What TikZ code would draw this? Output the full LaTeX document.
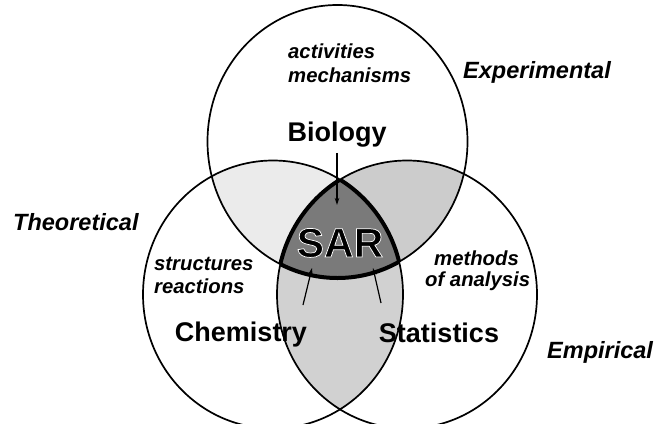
\documentclass[tikz,border=0pt]{standalone}
\usepackage{fontspec}
\setmainfont{Liberation Sans}
\newfontfamily\sarfont{Liberation Sans Bold}[FakeBold=1.8]
\usetikzlibrary{arrows.meta}
\begin{document}
\begin{tikzpicture}[x=1pt,y=-1pt,
  circ/.style={line width=1.7pt},
  big/.style={font=\bfseries\fontsize{27}{30}\selectfont, inner sep=0pt, anchor=base},
  cat/.style={font=\bfseries\itshape\fontsize{23.5}{26}\selectfont, inner sep=0pt, anchor=base west},
  sub/.style={font=\bfseries\itshape\fontsize{20.3}{23}\selectfont, inner sep=0pt, anchor=base west},
  arr/.style={line width=1.2pt, -{Stealth[length=7pt,width=4.5pt]}}
]
\useasboundingbox (0,0) rectangle (658,423);
\fill[white] (0,0) rectangle (658,423);
\def\topC{(337.5,141.5) ellipse [x radius=130pt, y radius=136.5pt]}
\def\leftC{(273,294.5) ellipse [x radius=130pt, y radius=134pt]}
\def\rightC{(407,294.5) ellipse [x radius=130pt, y radius=134pt]}
% shaded overlaps
\begin{scope}\clip \topC; \fill[black!8] \leftC; \end{scope}
\begin{scope}\clip \topC; \fill[black!20] \rightC; \end{scope}
\begin{scope}\clip \leftC; \fill[black!18] \rightC; \end{scope}
\begin{scope}\clip \topC; \clip \leftC; \fill[black!52] \rightC; \end{scope}
% thick outline of the central region
\begin{scope}\clip \leftC; \clip \rightC; \draw[line width=4pt] \topC; \end{scope}
\begin{scope}\clip \topC; \clip \rightC; \draw[line width=4pt] \leftC; \end{scope}
\begin{scope}\clip \topC; \clip \leftC; \draw[line width=4pt] \rightC; \end{scope}
% circles
\draw[circ] \topC;
\draw[circ] \leftC;
\draw[circ] \rightC;
% labels
\node[sub] (act) at (288,58) {activities};
\node[sub] (mech) at (288,82) {mechanisms};
\node[cat] (exp) at (463,78) {Experimental};
\node[big] (bio) at (337,141) {Biology};
\node[cat] (theo) at (13,230) {Theoretical};
\node[sub] (struc) at (154,270) {structures};
\node[sub] (reac) at (154,293) {reactions};
\node[sub] (meth) at (434,265) {methods};
\node[sub] (anal) at (425,286) {of analysis};
\node[big] (chem) at (241,341) {Chemistry};
\node[big] (stat) at (439,342) {Statistics};
\node[cat] (emp) at (547,358) {Empirical};
\node[inner sep=0pt, anchor=base] (sar) at (340,257)
  {\special{pdf:code q 1 1 1 RG}\sarfont\fontsize{41}{45}\selectfont SAR\special{pdf:code Q}};
% arrows
\coordinate (bioT) at (337,205);
\coordinate (chemS) at (303,305);
\coordinate (chemT) at (312,268);
\coordinate (statS) at (381,303);
\coordinate (statT) at (373,268);
\draw[arr] ([yshift=-6pt]bio.south) -- (bioT);
\draw[arr] (chemS) -- (chemT);
\draw[arr] (statS) -- (statT);
\end{tikzpicture}
\end{document}
